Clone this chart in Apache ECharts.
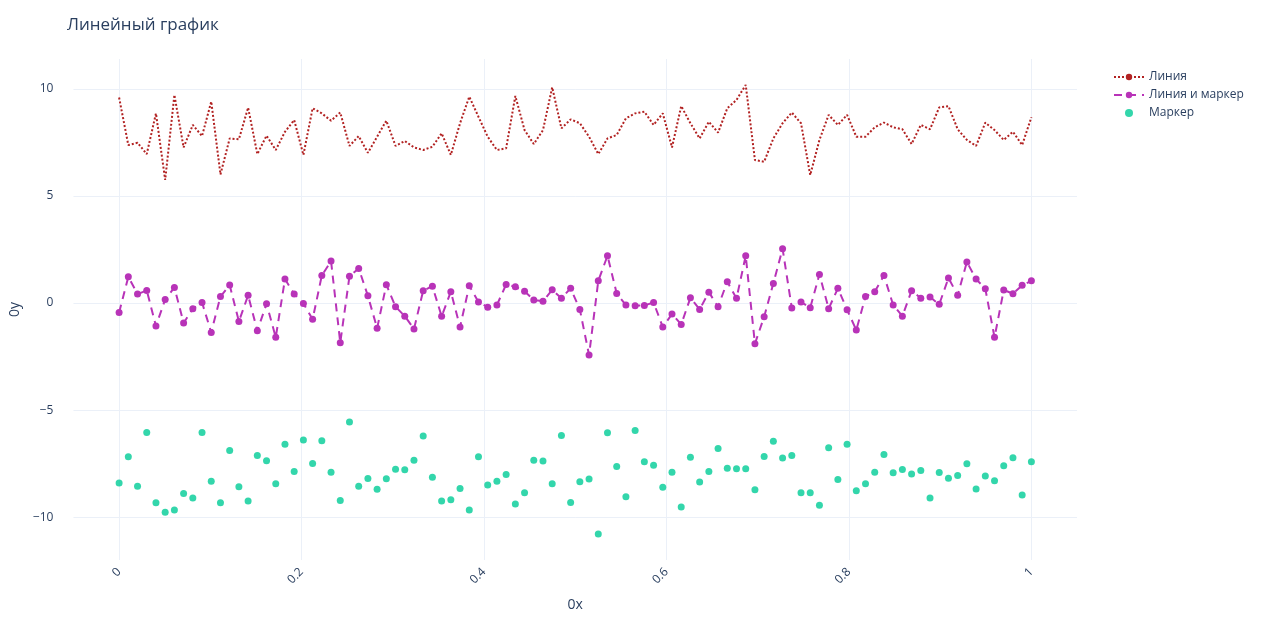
<!DOCTYPE html>
<html>
<head>
<meta charset="utf-8">
<script src="https://cdn.jsdelivr.net/npm/echarts@6/dist/echarts.min.js"></script>
<style>html,body{margin:0;padding:0;background:#fff}#main{width:1264px;height:626px}</style>
</head>
<body>
<div id="main"></div>
<script>
const lineValues = [9.6,7.38,7.49,6.96,8.86,5.75,9.72,7.27,8.32,7.8,9.41,6.01,7.69,7.65,9.13,6.96,7.82,7.15,8.0,8.55,
  6.92,9.1,8.86,8.52,8.9,7.34,7.8,7.02,7.77,8.52,7.34,7.57,7.27,7.15,7.3,7.93,6.92,8.4,9.64,8.7,
  7.77,7.15,7.23,9.67,8.08,7.43,8.08,10.08,8.16,8.58,8.4,7.77,6.96,7.69,7.85,8.63,8.86,8.94,8.32,8.86,
  7.27,9.2,8.4,7.69,8.47,7.96,9.1,9.49,10.19,6.68,6.6,7.69,8.4,8.9,8.4,5.98,7.62,8.79,8.32,8.79,
  7.77,7.77,8.21,8.43,8.21,8.12,7.43,8.32,8.12,9.14,9.2,8.12,7.62,7.34,8.43,8.08,7.62,8.0,7.38,8.68];
const lineMarkerValues = [-0.44,1.23,0.42,0.59,-1.07,0.17,0.73,-0.93,-0.26,0.03,-1.37,0.31,0.84,-0.86,0.36,-1.29,-0.03,-1.6,1.12,0.42,
  -0.02,-0.76,1.29,1.96,-1.85,1.25,1.62,0.34,-1.18,0.86,-0.17,-0.61,-1.21,0.58,0.79,-0.62,0.53,-1.12,0.81,0.05,
  -0.19,-0.09,0.87,0.76,0.55,0.14,0.09,0.62,0.23,0.69,-0.3,-2.43,1.04,2.21,0.45,-0.09,-0.12,-0.11,0.03,-1.12,
  -0.51,-1.0,0.25,-0.3,0.51,-0.17,1.0,0.22,2.21,-1.9,-0.64,0.92,2.54,-0.23,0.05,-0.22,1.34,-0.26,0.69,-0.31,
  -1.26,0.31,0.53,1.29,-0.09,-0.61,0.58,0.23,0.28,-0.06,1.17,0.37,1.92,1.12,0.67,-1.6,0.61,0.44,0.83,1.04];
const markerValues = [-8.4,-7.18,-8.55,-6.04,-9.33,-9.77,-9.66,-8.89,-9.11,-6.04,-8.32,-9.33,-6.88,-8.58,-9.24,-7.12,-7.37,-8.44,-6.59,-7.87,
  -6.39,-7.49,-6.43,-7.9,-9.22,-5.56,-8.55,-8.19,-8.69,-8.21,-7.76,-7.79,-7.34,-6.21,-8.13,-9.24,-9.19,-8.66,-9.67,-7.18,
  -8.5,-8.32,-8.01,-9.39,-8.86,-7.34,-7.38,-8.44,-6.18,-9.31,-8.35,-8.22,-10.79,-6.06,-7.63,-9.05,-5.95,-7.41,-7.57,-8.6,
  -7.9,-9.52,-7.2,-8.36,-7.87,-6.79,-7.71,-7.74,-7.74,-8.72,-7.17,-6.45,-7.24,-7.12,-8.86,-8.86,-9.44,-6.76,-8.24,-6.59,
  -8.77,-8.44,-7.9,-7.07,-7.93,-7.77,-7.98,-7.82,-9.11,-7.91,-8.18,-8.05,-7.51,-8.68,-8.08,-8.3,-7.6,-7.23,-8.96,-7.41];
const xValues = lineValues.map((_, i) => i / 99);
const xTicks = [0, 0.2, 0.4, 0.6, 0.8, 1];
const yTicks = [-10, -5, 0, 5, 10];

const pairs = (ys) => ys.map((y, i) => [xValues[i], y]);
const fmt = (v) => String(+v.toFixed(2)).replace('-', '\u2212');
const txt = '#2a3f5f';
const font = '"Open Sans", sans-serif';

const chart = echarts.init(document.getElementById('main'));
chart.setOption({
  animation: false,
  textStyle: { fontFamily: font, color: txt },
  title: { text: 'Линейный график', left: 62, top: 12, textStyle: { fontSize: 17, fontWeight: 'normal', color: txt, fontFamily: font } },
  legend: {
    orient: 'vertical', left: 1108, top: 66, itemGap: 6, itemWidth: 30, itemHeight: 8,
    textStyle: { fontSize: 12, color: txt, fontFamily: font },
    data: ['Линия', 'Линия и маркер', 'Маркер']
  },
  grid: { left: 71, right: 187, top: 59, bottom: 66 },
  xAxis: {
    type: 'value', min: -0.05, max: 1.05,
    name: '0x', nameLocation: 'middle', nameGap: 38, nameTextStyle: { fontSize: 14, color: txt },
    axisLine: { show: false }, axisTick: { show: false, customValues: xTicks },
    axisLabel: { customValues: xTicks, rotate: 45, color: txt, fontSize: 12, formatter: fmt, margin: 10 },
    splitLine: { lineStyle: { color: '#ebf0f8', width: 1 } }
  },
  yAxis: {
    type: 'value', min: -12, max: 11.4,
    name: '0y', nameLocation: 'middle', nameGap: 47, nameTextStyle: { fontSize: 14, color: txt },
    axisLine: { show: false }, axisTick: { show: false, customValues: yTicks },
    axisLabel: { customValues: yTicks, color: txt, fontSize: 12, formatter: fmt, margin: 20 },
    splitLine: { lineStyle: { color: '#ebf0f8', width: 1 } }
  },
  series: [
    {
      name: 'Линия', type: 'line', data: pairs(lineValues), showSymbol: false, symbol: 'none',
      lineStyle: { color: '#b22222', width: 2, type: [2, 2] }, itemStyle: { color: '#b22222' }
    },
    {
      name: 'Линия и маркер', type: 'line', data: pairs(lineMarkerValues), symbol: 'circle', symbolSize: 7,
      lineStyle: { color: '#b833b8', width: 2, type: [8, 6] }, itemStyle: { color: '#b833b8' }
    },
    {
      name: 'Маркер', type: 'scatter', data: pairs(markerValues), symbolSize: 7,
      itemStyle: { color: '#00cc96' }
    }
  ]
});
</script>
</body>
</html>
